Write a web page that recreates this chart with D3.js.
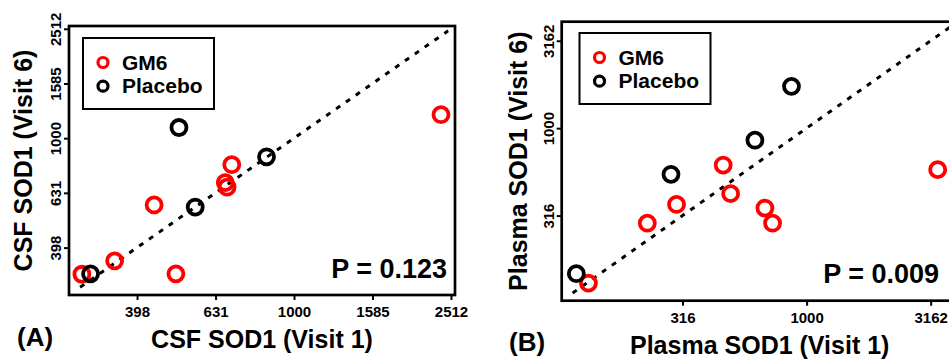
<!DOCTYPE html>
<html>
<head>
<meta charset="utf-8">
<script src="https://cdn.jsdelivr.net/npm/d3@7"></script>
<style>
  body { margin: 0; background: #fff; }
  svg { display: block; font-family: "Liberation Sans", Arial, sans-serif; font-weight: bold; }
</style>
</head>
<body>
<div id="chart"></div>
<script>
// CSF SOD1 (panel A)
let csfGm6V1 = [288, 349, 440, 500, 694, 668, 675, 2369];
let csfGm6V6 = [318, 356, 570, 319, 800, 688, 662, 1219];
let csfPlaV1 = [303, 509, 560, 851];
let csfPlaV6 = [319, 1094, 560, 855];
let csfTicks = [398, 631, 1000, 1585, 2512];
let csfDomain = [267, 2572];
let csfLine = [285, 2470];

// Plasma SOD1 (panel B)
let plasmaGm6V1 = [132, 228, 299, 461, 494, 679, 729, 3375];
let plasmaGm6V6 = [130, 286, 366, 615, 422, 349, 286, 579];
let plasmaPlaV1 = [118, 284, 619, 869];
let plasmaPlaV6 = [147, 544, 853, 1734];
let plasmaTicks = [316, 1000, 3162];
let plasmaDomain = [103, 4064];
let plasmaLine = [114, 4000];

let groups = ["GM6", "Placebo"];
let groupColors = ["#ff0000", "#000000"];

let width = 949;
let height = 360;

let svg = d3.select("#chart")
    .append("svg")
    .attr("width", width)
    .attr("height", height);

function drawPanel(p) {
    let x = d3.scaleLog().domain(p.domain).range([p.left, p.right]);
    let y = d3.scaleLog().domain(p.domain).range([p.bottom, p.top]);
    let g = svg.append("g");

    // identity line
    g.append("line")
        .attr("x1", x(p.line[0])).attr("y1", y(p.line[0]))
        .attr("x2", x(p.line[1])).attr("y2", y(p.line[1]))
        .attr("stroke", "#000")
        .attr("stroke-width", 3)
        .attr("stroke-dasharray", "5,7");

    // points
    let series = [[p.gm6x, p.gm6y, groupColors[0]], [p.plax, p.play, groupColors[1]]];
    series.forEach(function (s) {
        g.selectAll(null)
            .data(d3.range(s[0].length))
            .enter()
            .append("circle")
            .attr("cx", i => x(s[0][i]))
            .attr("cy", i => y(s[1][i]))
            .attr("r", 7.5)
            .attr("fill", "none")
            .attr("stroke", s[2])
            .attr("stroke-width", 3.8);
    });

    // frame
    g.append("rect")
        .attr("x", p.left).attr("y", p.top)
        .attr("width", p.right - p.left)
        .attr("height", p.bottom - p.top)
        .attr("fill", "none")
        .attr("stroke", "#000")
        .attr("stroke-width", 2.7);

    // axes
    let xAxis = g.append("g")
        .attr("transform", `translate(0, ${p.bottom})`)
        .call(d3.axisBottom(x).tickValues(p.ticks).tickFormat(d3.format("d")).tickSize(5));
    let yAxis = g.append("g")
        .attr("transform", `translate(${p.left}, 0)`)
        .call(d3.axisLeft(y).tickValues(p.ticks).tickFormat(d3.format("d")).tickSize(5));

    [xAxis, yAxis].forEach(function (a) {
        a.select(".domain").remove();
        a.selectAll("line").attr("stroke-width", 2);
        a.selectAll("text")
            .attr("font-family", null)
            .attr("font-size", 15)
            .attr("fill", "#000");
    });
    xAxis.selectAll("text").attr("y", 22).attr("dy", null);
    yAxis.selectAll("text")
        .attr("transform", "rotate(-90)")
        .attr("text-anchor", "middle")
        .attr("x", 0)
        .attr("y", -8)
        .attr("dy", null);

    // axis titles
    g.append("text")
        .attr("x", (p.left + p.right) / 2)
        .attr("y", p.bottom + p.xTitleOff)
        .attr("text-anchor", "middle")
        .attr("font-size", 25)
        .text(p.xTitle);
    g.append("text")
        .attr("transform", `translate(${p.left - p.yTitleOff}, ${(p.top + p.bottom) / 2})rotate(-90)`)
        .attr("text-anchor", "middle")
        .attr("font-size", 25)
        .text(p.yTitle);

    // P value
    g.append("text")
        .attr("x", p.pX).attr("y", p.pY)
        .attr("text-anchor", "end")
        .attr("font-size", 27)
        .text(p.pText);

    // panel label
    g.append("text")
        .attr("x", p.labelX).attr("y", p.labelY)
        .attr("font-size", 26)
        .text(p.label);

    // legend
    let lg = g.append("g").attr("transform", `translate(${p.legX}, ${p.legY})`);
    lg.append("rect")
        .attr("width", 131).attr("height", 71)
        .attr("fill", "#fff")
        .attr("stroke", "#000")
        .attr("stroke-width", 2);
    groups.forEach(function (name, i) {
        lg.append("circle")
            .attr("cx", 20).attr("cy", 24.5 + i * 23.7)
            .attr("r", 5)
            .attr("fill", "none")
            .attr("stroke", groupColors[i])
            .attr("stroke-width", 3.2);
        lg.append("text")
            .attr("x", 39).attr("y", 32 + i * 23.3)
            .attr("font-size", 21)
            .text(name);
    });
}

drawPanel({
    domain: csfDomain, ticks: csfTicks, line: csfLine,
    gm6x: csfGm6V1, gm6y: csfGm6V6, plax: csfPlaV1, play: csfPlaV6,
    left: 69, right: 455, top: 26, bottom: 295,
    xTitle: "CSF SOD1 (Visit 1)", yTitle: "CSF SOD1 (Visit 6)",
    xTitleOff: 53, yTitleOff: 37,
    pText: "P = 0.123", pX: 447, pY: 278,
    label: "(A)", labelX: 17, labelY: 346,
    legX: 83, legY: 38
});

drawPanel({
    domain: plasmaDomain, ticks: plasmaTicks, line: plasmaLine,
    gm6x: plasmaGm6V1, gm6y: plasmaGm6V6, plax: plasmaPlaV1, play: plasmaPlaV6,
    left: 561.7, right: 957.7, top: 21.7, bottom: 300.7,
    xTitle: "Plasma SOD1 (Visit 1)", yTitle: "Plasma SOD1 (Visit 6)",
    xTitleOff: 53, yTitleOff: 35,
    pText: "P = 0.009", pX: 939, pY: 283,
    label: "(B)", labelX: 509, labelY: 351,
    legX: 579.5, legY: 33
});
</script>
</body>
</html>
